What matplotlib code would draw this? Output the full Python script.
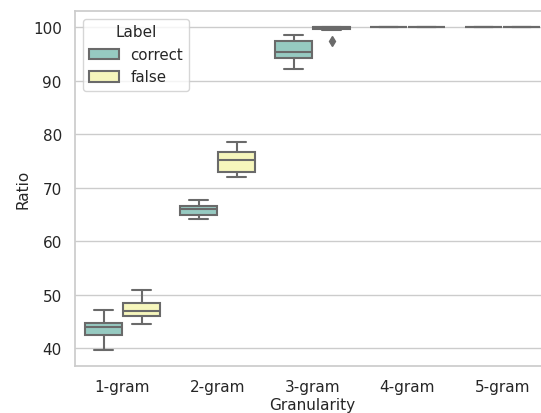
import numpy as np
import matplotlib
matplotlib.use("Agg")
import matplotlib.pyplot as plt
import matplotlib.colors as mcolors
import colorsys
import seaborn as sns
from matplotlib.patches import Patch

sns.set_theme(style="whitegrid")
plt.rcParams["axes.labelsize"] = 11
plt.rcParams["legend.fontsize"] = 10.8
plt.rcParams["legend.title_fontsize"] = 11

# five-number summaries, one entry per granularity
granularity = ["1-gram", "2-gram", "3-gram", "4-gram", "5-gram"]
labels = ["correct", "false"]

correct_med = [43.9, 66.0, 95.4, 100.0, 100.0]
correct_q1 = [42.5, 64.9, 94.2, 100.0, 100.0]
correct_q3 = [44.6, 66.6, 97.3, 100.0, 100.0]
correct_lo = [39.7, 64.1, 92.1, 100.0, 100.0]
correct_hi = [47.2, 67.7, 98.6, 100.0, 100.0]
correct_fliers = [[], [], [], [], []]

false_med = [47.0, 75.1, 100.0, 100.0, 100.0]
false_q1 = [46.0, 73.0, 99.7, 100.0, 100.0]
false_q3 = [48.4, 76.7, 100.0, 100.0, 100.0]
false_lo = [44.5, 72.0, 99.5, 100.0, 100.0]
false_hi = [50.8, 78.6, 100.0, 100.0, 100.0]
false_fliers = [[], [], [97.3], [], []]

# seaborn-ish colours (Set3, desaturated, gray lines)
pal = [sns.desaturate(c, 0.75) for c in sns.color_palette("Set3", 2)]
lum = min(colorsys.rgb_to_hls(*c)[1] for c in pal) * 0.6
gray = mcolors.rgb2hex((lum, lum, lum))

fig = plt.figure(figsize=(5.41, 4.14), dpi=100)
# right edge of the axes runs past the picture, like the reference
ax = fig.add_axes([75 / 541, 47 / 414, 475 / 541, 355 / 414])

series = [
    (correct_med, correct_q1, correct_q3, correct_lo, correct_hi, correct_fliers),
    (false_med, false_q1, false_q3, false_lo, false_hi, false_fliers),
]
offsets = [-0.2, 0.2]

for j, (med, q1, q3, lo, hi, fl) in enumerate(series):
    stats = []
    for i in range(len(granularity)):
        stats.append(dict(med=med[i], q1=q1[i], q3=q3[i], whislo=lo[i],
                          whishi=hi[i], fliers=fl[i]))
    pos = np.arange(len(granularity)) + offsets[j]
    ax.bxp(stats, positions=pos, widths=0.392, patch_artist=True,
           manage_ticks=False,
           boxprops=dict(facecolor=pal[j], edgecolor=gray, linewidth=1.5),
           medianprops=dict(color=gray, linewidth=1.5),
           whiskerprops=dict(color=gray, linewidth=1.5),
           capprops=dict(color=gray, linewidth=1.5),
           flierprops=dict(marker="d", markerfacecolor=gray, markeredgecolor=gray,
                           markersize=5, linestyle="none"))

ax.set_xlim(-0.5, len(granularity) - 0.5)
ax.set_ylim(36.65, 103.0)
ax.set_xticks(np.arange(len(granularity)))
ax.set_xticklabels(granularity)
ax.set_yticks([40, 50, 60, 70, 80, 90, 100])
ax.xaxis.grid(False)
ax.set_xlabel("Granularity", labelpad=1.8)
ax.set_ylabel("Ratio", labelpad=1.8)

handles = [Patch(facecolor=pal[k], edgecolor=gray, linewidth=1.5) for k in range(2)]
ax.legend(handles, labels, title="Label", loc="upper left")

plt.savefig("out.png", dpi=100)
